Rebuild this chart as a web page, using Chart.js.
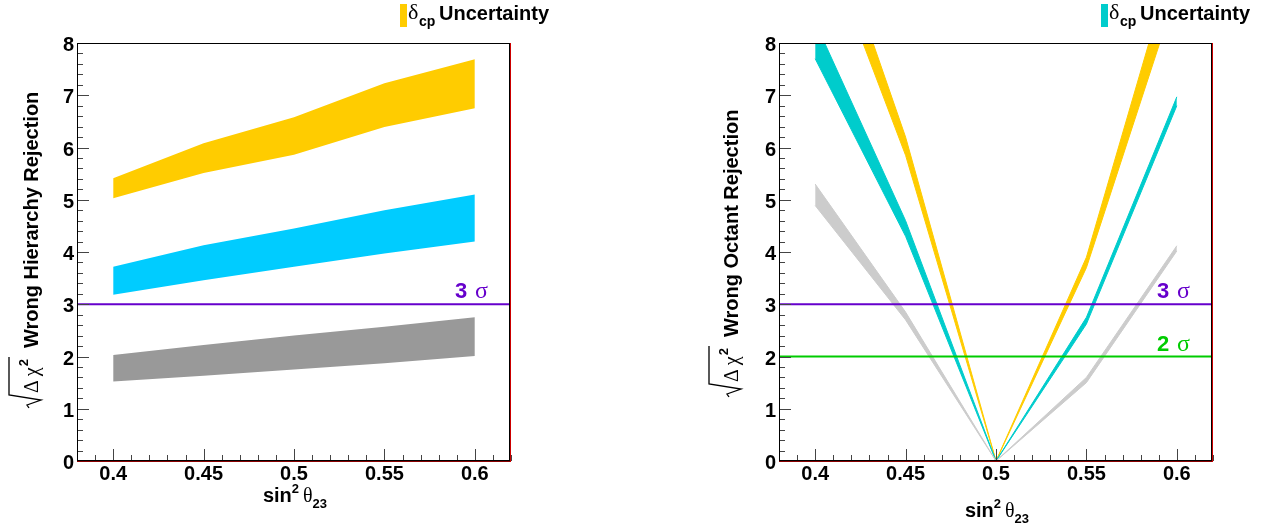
<!DOCTYPE html>
<html><head><meta charset="utf-8">
<script src="https://cdn.jsdelivr.net/npm/chart.js@4"></script>
<style>
html,body{margin:0;padding:0;background:#fff;}
#wrap{position:relative;width:1271px;height:528px;overflow:hidden;background:#fff;}
canvas{position:absolute;top:0;}
</style></head><body>
<div id="wrap">
<canvas id="c1" width="640" height="528" style="left:0;width:640px;height:528px"></canvas>
<canvas id="c2" width="631" height="528" style="left:640px;width:631px;height:528px"></canvas>
</div>
<script>
// ---------- data ----------
const xValues = [0.4, 0.45, 0.5, 0.55, 0.6];
const xTickValues = [0.4, 0.45, 0.5, 0.55, 0.6];
const xTickLabels = ['0.4', '0.45', '0.5', '0.55', '0.6'];
const yTickValues = [0, 1, 2, 3, 4, 5, 6, 7, 8];
const yTickLabels = ['0', '1', '2', '3', '4', '5', '6', '7', '8'];

// Left panel: wrong hierarchy rejection
const mhYellowUpper = [5.41, 6.08, 6.58, 7.23, 7.69];
const mhYellowLower = [5.03, 5.51, 5.86, 6.39, 6.75];
const mhBlueUpper   = [3.72, 4.13, 4.45, 4.80, 5.10];
const mhBlueLower   = [3.18, 3.46, 3.72, 3.97, 4.20];
const mhGrayUpper   = [2.03, 2.22, 2.40, 2.57, 2.75];
const mhGrayLower   = [1.52, 1.63, 1.75, 1.87, 2.01];
const mhSigmaLevels = [3];
const mhSigmaNames  = ['3'];

// Right panel: wrong octant rejection
const ocYellowUpper = [11.2, 6.2, 0, 3.9, 9.83];
const ocYellowLower = [10.41, 5.85, 0, 3.7, 9.0];
const ocCyanUpper   = [8.4, 4.6, 0, 2.75, 6.97];
const ocCyanLower   = [7.7, 4.3, 0, 2.62, 6.8];
const ocGrayUpper   = [5.3, 2.85, 0, 1.6, 4.12];
const ocGrayLower   = [4.89, 2.7, 0, 1.5, 4.02];
const ocSigmaLevels = [3, 2];
const ocSigmaNames  = ['3', '2'];

const X_MIN = 0.38, X_MAX = 0.62, Y_MIN = 0, Y_MAX = 8;
const SANS = '"Liberation Sans", Arial, Helvetica, sans-serif';
const SERIF = '"Liberation Serif", "DejaVu Serif", serif';

function pts(vals) { return xValues.map((x, i) => ({ x: x, y: vals[i] })); }
function band(lower, upper, color, bw) {
  return [
    { data: pts(lower), borderColor: color, backgroundColor: color, borderWidth: bw, pointRadius: 0, fill: false, order: 2, tension: 0 },
    { data: pts(upper), borderColor: color, backgroundColor: color, borderWidth: bw, pointRadius: 0, fill: '-1', order: 2, tension: 0 }
  ];
}
function sigmaLine(level, color) {
  return { data: [{ x: X_MIN, y: level }, { x: X_MAX, y: level }], borderColor: color, backgroundColor: color,
           borderWidth: 2, pointRadius: 0, fill: false, order: 0 };
}

function drawYTitle(ctx, cx, startY, title) {
  ctx.save();
  ctx.translate(cx, startY);
  ctx.rotate(-Math.PI / 2);
  ctx.fillStyle = '#000'; ctx.strokeStyle = '#000';
  ctx.textBaseline = 'alphabetic'; ctx.textAlign = 'left';
  let u = 15;
  ctx.font = '20px ' + SERIF;
  const wD = ctx.measureText('\u0394').width;
  const wC = ctx.measureText('\u03C7').width;
  ctx.font = 'bold 13px ' + SANS;
  const w2 = ctx.measureText('2').width;
  const endOver = u + wD + 4 + wC + 1 + w2 + 2;
  ctx.lineWidth = 1.3;
  ctx.beginPath();
  ctx.moveTo(0, -9); ctx.lineTo(3, -11); ctx.lineTo(8, 3); ctx.lineTo(13, -29); ctx.lineTo(endOver, -29);
  ctx.stroke();
  ctx.font = '20px ' + SERIF;
  ctx.fillText('\u0394', u, 0); u += wD + 4;
  ctx.fillText('\u03C7', u, 0); u += wC + 1;
  ctx.font = 'bold 13px ' + SANS;
  ctx.fillText('2', u, -10); u += w2 + 2;
  u += 9;
  ctx.font = 'bold 20px ' + SANS;
  ctx.fillText(title, u, 0);
  ctx.restore();
}

const framePlugin = {
  id: 'frame',
  afterDraw(chart, args, o) {
    const ctx = chart.ctx, a = chart.chartArea, xs = chart.scales.x, ys = chart.scales.y;
    ctx.save();
    const line = (x1, y1, x2, y2) => { ctx.beginPath(); ctx.moveTo(x1, y1); ctx.lineTo(x2, y2); ctx.stroke(); };
    // ticks
    ctx.strokeStyle = '#444'; ctx.lineWidth = 1;
    for (let k = 0; k <= 40; k++) {
      const py = Math.round(ys.getPixelForValue(k * 0.2)) + 0.5;
      line(a.left, py, a.left + (k % 5 === 0 ? 12 : 6), py);
    }
    for (let k = 38; k <= 62; k++) {
      const px = Math.round(xs.getPixelForValue(k / 100)) + 0.5;
      line(px, a.bottom, px, a.bottom - (k % 5 === 0 ? 12 : 6));
    }
    // frame
    ctx.lineWidth = 1;
    ctx.strokeStyle = '#000';
    line(a.left, a.top + 0.5, a.right, a.top + 0.5);
    line(a.left + 0.5, a.top, a.left + 0.5, a.bottom + 1);
    line(a.left, a.bottom - 0.5, a.right, a.bottom - 0.5);
    line(a.right - 1.5, a.top, a.right - 1.5, a.bottom);
    ctx.strokeStyle = '#8a0000';
    line(a.left, a.bottom + 0.5, a.right, a.bottom + 0.5);
    ctx.strokeStyle = '#cc0000';
    line(a.right - 0.5, a.top, a.right - 0.5, a.bottom + 1);
    // tick labels
    ctx.fillStyle = '#000';
    ctx.font = 'bold 20px ' + SANS;
    ctx.textAlign = 'right'; ctx.textBaseline = 'alphabetic';
    yTickValues.forEach((v, i) => {
      ctx.fillText(yTickLabels[i], a.left - 3, ys.getPixelForValue(v) + 8);
    });
    ctx.textAlign = 'center';
    xTickValues.forEach((v, i) => {
      ctx.fillText(xTickLabels[i], xs.getPixelForValue(v), 480);
    });
    // x title: sin^2 theta_23
    {
      const cx = xs.getPixelForValue(0.5) + 1, by = o.xTitleBaseline;
      ctx.textAlign = 'left';
      ctx.font = 'bold 20px ' + SANS; const wS = ctx.measureText('sin').width;
      ctx.font = 'bold 13px ' + SANS; const w2 = ctx.measureText('2').width; const w23 = ctx.measureText('23').width;
      ctx.font = '20px ' + SERIF; const wT = ctx.measureText('\u03B8').width;
      const total = wS + w2 + 4 + wT + w23;
      let u = cx - total / 2;
      ctx.font = 'bold 20px ' + SANS; ctx.fillText('sin', u, by); u += wS;
      ctx.font = 'bold 13px ' + SANS; ctx.fillText('2', u, by - 9); u += w2 + 4;
      ctx.font = '20px ' + SERIF; ctx.fillText('\u03B8', u, by); u += wT;
      ctx.font = 'bold 13px ' + SANS; ctx.fillText('23', u, by + 6);
    }
    // y title
    drawYTitle(ctx, o.yTitleX, o.yTitleStart, o.yTitle);
    // legend
    {
      const L = o.legendX;
      ctx.fillStyle = o.legendColor;
      ctx.fillRect(L, 4, 7, 23);
      ctx.fillStyle = '#000'; ctx.textAlign = 'left';
      ctx.font = '22px ' + SERIF; ctx.fillText('\u03B4', L + 8, 19);
      ctx.font = 'bold 14px ' + SANS; ctx.fillText('cp', L + 19, 26);
      ctx.font = 'bold 20px ' + SANS; ctx.fillText('Uncertainty', L + 39, 20);
    }
    // sigma labels
    o.sigma.forEach(s => {
      const py = ys.getPixelForValue(s.level);
      ctx.fillStyle = s.color; ctx.textAlign = 'left';
      ctx.font = 'bold 22px ' + SANS; ctx.fillText(s.name, a.right - 56, py - 6);
      ctx.font = '24px ' + SERIF; ctx.fillText('\u03C3', a.right - 36, py - 6);
    });
    ctx.restore();
  }
};

function makeChart(id, datasets, pad, frameOpts) {
  return new Chart(document.getElementById(id), {
    type: 'line',
    data: { datasets: datasets },
    options: {
      responsive: false, animation: false, devicePixelRatio: 1,
      layout: { padding: pad },
      elements: { line: { tension: 0 } },
      datasets: { line: { clip: 0 } },
      plugins: { legend: { display: false }, tooltip: { enabled: false }, frame: frameOpts },
      scales: {
        x: { type: 'linear', min: X_MIN, max: X_MAX, display: false },
        y: { type: 'linear', min: Y_MIN, max: Y_MAX, display: false }
      }
    },
    plugins: [framePlugin]
  });
}

const purple = '#6600cc', green = '#00cc00';

makeChart('c1',
  [].concat(
    band(mhYellowLower, mhYellowUpper, '#ffcc00', 0),
    band(mhBlueLower, mhBlueUpper, '#00ccff', 0),
    band(mhGrayLower, mhGrayUpper, '#999999', 0),
    mhSigmaLevels.map(l => sigmaLine(l, purple))
  ),
  { left: 77, right: 129, top: 43, bottom: 67 },
  { yTitle: 'Wrong Hierarchy Rejection', yTitleX: 38, yTitleStart: 408, xTitleBaseline: 502,
    legendX: 400, legendColor: '#ffcc00',
    sigma: mhSigmaLevels.map((l, i) => ({ level: l, name: mhSigmaNames[i], color: purple })) }
);

makeChart('c2',
  [].concat(
    band(ocGrayLower, ocGrayUpper, '#cccccc', 1),
    band(ocCyanLower, ocCyanUpper, '#00cccc', 1),
    band(ocYellowLower, ocYellowUpper, '#ffcc00', 1),
    ocSigmaLevels.map((l, i) => sigmaLine(l, i === 0 ? purple : green))
  ),
  { left: 139, right: 58, top: 43, bottom: 67 },
  { yTitle: 'Wrong Octant Rejection', yTitleX: 98, yTitleStart: 397, xTitleBaseline: 517,
    legendX: 461, legendColor: '#00cccc',
    sigma: ocSigmaLevels.map((l, i) => ({ level: l, name: ocSigmaNames[i], color: i === 0 ? purple : green })) }
);
</script>
</body></html>
